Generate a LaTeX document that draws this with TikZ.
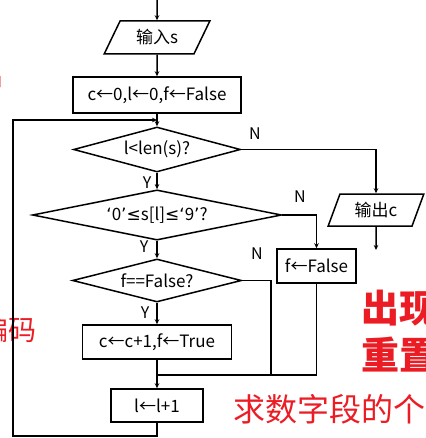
\documentclass[tikz,border=0pt]{standalone}
\usepackage{fontspec}
\setmainfont{Noto Sans CJK SC}
\newfontfamily\latf{DejaVu Sans}
\usetikzlibrary{shapes.geometric,arrows.meta}
\definecolor{myred}{RGB}{235,28,36}
\newcommand{\myLq}{{\latf\char"2018}}
\newcommand{\myRq}{{\latf\char"2019}}
\newcommand{\myLeq}{{\latf\char"2264}}
\begin{document}
\begin{tikzpicture}[x=1pt,y=-1pt,
  every node/.style={font=\fontsize{17}{19}\selectfont},
  box/.style={draw, line width=1.5pt, rectangle, inner sep=0pt},
  dia/.style={draw, line width=1.5pt, diamond, inner sep=0pt, aspect=3},
  para/.style={draw, line width=1.5pt, trapezium, trapezium left angle=60, trapezium right angle=120, trapezium stretches=true, inner sep=0pt},
  line/.style={line width=1.5pt},
  arr/.style={line, -{Stealth[length=5pt,width=4.5pt]}},
  lab/.style={font=\fontsize{16}{18}\selectfont, inner sep=0pt},
  redtxt/.style={text=myred, inner sep=0pt}
]
\useasboundingbox (0,0) rectangle (425,438);
\clip (0,0) rectangle (425,438);
% surrounding red text fragments
\node[redtxt, anchor=east, font=\fontsize{28}{30}\selectfont] (r1) at (5,76) {吕};
\node[redtxt, anchor=east, font=\fontsize{28}{30}\selectfont] (r2) at (37,330) {编码};
\node[redtxt, anchor=west, font=\bfseries\fontsize{38}{40}\selectfont] (r3) at (361,308) {出现};
\node[redtxt, anchor=west, font=\bfseries\fontsize{38}{40}\selectfont] (r4) at (361,355) {重置};
\node[redtxt, anchor=west, font=\fontsize{32}{34}\selectfont] (r5) at (233,409) {求数字段的个数};
% flowchart
\coordinate (top) at (157,0);
\node[para, minimum width=106pt, minimum height=33pt] (in) at (157,37.5) {输入s};
\node[box, minimum width=168pt, minimum height=36pt] (init) at (157,95) {c←0,l←0,f←False};
\node[dia, minimum width=167pt, minimum height=45pt] (d1) at (157,149.5) {l<len(s)?};
\node[dia, minimum width=249pt, minimum height=44pt] (d2) at (157,215) {\myLq0\myRq\myLeq s[l]\myLeq\myLq9\myRq?};
\node[dia, minimum width=169pt, minimum height=43pt] (d3) at (157,280.5) {f==False?};
\node[box, minimum width=149pt, minimum height=34pt] (cb) at (157,342) {c←c+1,f←True};
\node[box, minimum width=92pt, minimum height=33pt] (lb) at (157,405.5) {l←l+1};
\node[box, minimum width=79pt, minimum height=34pt] (fb) at (316.5,266) {f←False};
\node[para, trapezium left angle=66, trapezium right angle=114, minimum width=96pt, minimum height=32pt] (out) at (376,210) {输出c};
\coordinate (outend) at (376,250);
\coordinate (m1) at (271,375);
\coordinate (mj) at (157,375);
\coordinate (lp2) at (13,436);
\coordinate (lp4) at (157,120);
\draw[arr] (top) -- (in);
\draw[arr] (in) -- (init);
\draw[arr] (init) -- (d1);
\draw[arr] (d1) -- (d2);
\draw[arr] (d2) -- (d3);
\draw[arr] (d3) -- (cb);
\draw[arr] (cb) -- (lb);
\draw[arr] (d1.east) -| (out.north);
\draw[arr] (out.south) -- (outend);
\draw[arr] (d2.east) -| (fb.north);
\draw[line] (d3.east) -| (m1);
\draw[line] (fb.south) |- (mj);
\draw[arr] (lb.south) |- (lp2) |- (lp4);
% labels
\node[lab] (y1) at (147,183) {Y};
\node[lab] (y2) at (144,247) {Y};
\node[lab] (y3) at (145,313) {Y};
\node[lab] (n1) at (255,134) {N};
\node[lab] (n2) at (300,197) {N};
\node[lab] (n3) at (257,254) {N};
\end{tikzpicture}
\end{document}
